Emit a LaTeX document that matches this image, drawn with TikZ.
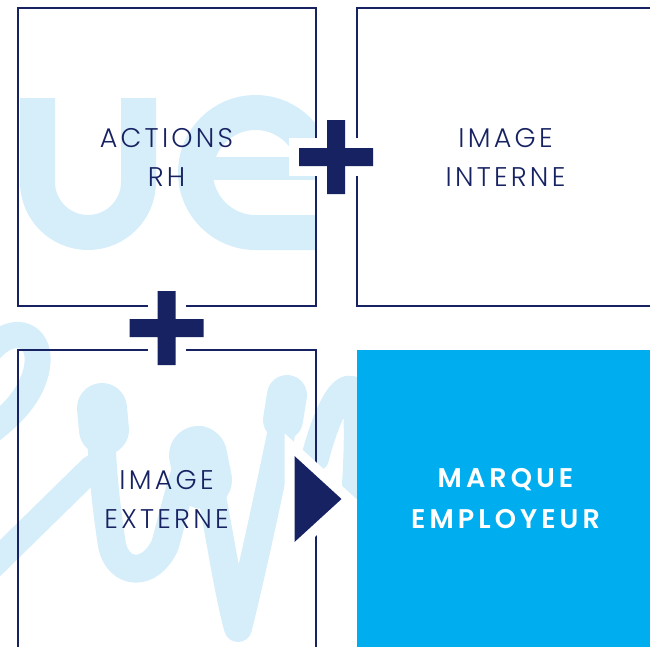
\documentclass[tikz,border=0pt]{standalone}
\usepackage{fontspec}
\usetikzlibrary{positioning,calc,backgrounds}
\IfFontExistsTF{Poppins-Light.otf}
  {\newfontfamily\lightfont[LetterSpace=12]{Poppins-Light.otf}}
  {\IfFontExistsTF{Poppins Light}
    {\newfontfamily\lightfont[LetterSpace=12]{Poppins Light}}
    {\newfontfamily\lightfont[LetterSpace=12]{Poppins}}}
\IfFontExistsTF{Poppins SemiBold}
  {\newfontfamily\heavyfont[LetterSpace=15]{Poppins SemiBold}}
  {\newfontfamily\heavyfont[LetterSpace=15,FakeBold=2]{Poppins}}
\definecolor{navy}{HTML}{172262}
\definecolor{paleblue}{HTML}{D6EEFA}
\definecolor{cyanbox}{HTML}{00AEEF}
\tikzset{main box/.style={rectangle,draw=navy,line width=2pt,minimum width=298pt,minimum height=298pt,
    inner sep=0pt,align=center,text=navy,font=\lightfont\fontsize{27}{39}\selectfont},
  brush/.style={draw=paleblue,line width=28pt,line cap=round,line join=round},
  pale stroke/.style={draw=paleblue,line width=35pt},
  plussign/.pic={\path[fill=navy,preaction={draw=white,line width=20pt}]
    (-37,-9) -- (-9,-9) -- (-9,-37) -- (9,-37) -- (9,-9) -- (37,-9) -- (37,9) -- (9,9)
    -- (9,37) -- (-9,37) -- (-9,9) -- (-37,9) -- cycle;},
  pointer/.pic={\path[fill=navy,preaction={draw=white,line width=20pt}]
    (-22,-43) -- (25,0) -- (-22,43) -- cycle;}
}

\begin{document}
\begin{tikzpicture}[x=1pt,y=-1pt,node distance = 42pt and 39pt]
	\useasboundingbox (0,0) rectangle (650,646);
	\clip (0,0) rectangle (650,646);
	\node[main box] (rh) at (166.5,157) {ACTIONS\\RH};
	\node[main box] (interne) [right = of rh] {IMAGE\\INTERNE};
	\node[main box] (externe) [below = of rh] {IMAGE\\EXTERNE};
	\node[main box,fill=cyanbox,draw=none,text=white,font=\heavyfont\fontsize{27}{41}\selectfont]
		(marque) [right = of externe] {MARQUE\\EMPLOYEUR};
	
	% pale lettering behind the boxes
	\begin{scope}[on background layer]
		\begin{scope}
			\clip (rh.south west) rectangle (rh.north east);
			% u
			\draw[pale stroke] (37.5,98) -- (37.5,182) arc[start angle=180,end angle=0,radius=50.5] -- (138.5,98);
			% e
			\draw[pale stroke] (255.5,172.5) ++(0:60) arc[start angle=0,end angle=-270,radius=60] -- ++(80,0);
			\fill[paleblue] (200,157) rectangle (340,180);
		\end{scope}
		\draw[brush,line width=26pt] (-10,350) .. controls (15,322) and (45,335) .. (36,372)
			.. controls (30,395) and (15,412) .. (-8,430);
		\draw[brush,line width=26pt] (-10,568) -- (92,468);
		\draw[brush] (101,398) .. controls (100,450) and (105,500) .. (112,545)
			.. controls (118,575) and (150,578) .. (165,545)
			.. controls (175,510) and (185,460) .. (200,440);
		\draw[brush,line width=50pt] (102,408) -- (104,430);
		\draw[brush,line width=58pt] (198,455) -- (203,480);
		\draw[brush] (200,440) .. controls (215,500) and (225,580) .. (238,628)
			.. controls (255,560) and (278,450) .. (290,390);
		\draw[brush,line width=40pt] (287,395) -- (283,420);
		\draw[brush] (315,458) .. controls (325,420) and (340,385) .. (352,390)
			.. controls (360,400) and (358,450) .. (356,485);
	\end{scope}
	
	\pic at ($(rh.east)!0.5!(interne.west)$) {plussign};
	\pic at ($(rh.south)!0.5!(externe.north)$) {plussign};
	\pic at (externe.east) {pointer};
\end{tikzpicture}
\end{document}
